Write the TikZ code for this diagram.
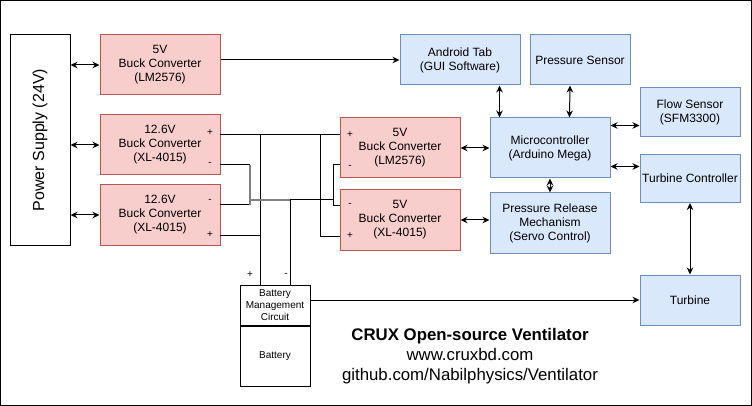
\documentclass[tikz,border=0pt]{standalone}
\usepackage{fontspec}
\setmainfont{Liberation Sans}
\usetikzlibrary{arrows.meta, calc, positioning}
\definecolor{redfill}{RGB}{248,206,204}
\definecolor{redline}{RGB}{184,84,80}
\definecolor{bluefill}{RGB}{218,232,252}
\definecolor{blueline}{RGB}{108,142,191}

\begin{document}
\begin{tikzpicture}[x=1pt, y=-1pt, line width=1pt, >={Stealth[length=7pt,width=6.5pt]},
    redbox/.style={draw=redline, fill=redfill, minimum width=120pt, minimum height=60pt, align=center, inner sep=0pt, font=\fontsize{12}{14}\selectfont},
    bluebox/.style={draw=blueline, fill=bluefill, align=center, inner sep=0pt, font=\fontsize{12}{14}\selectfont},
    pinlabel/.style={inner sep=0pt, font=\fontsize{10}{12}\selectfont},
    wiregray/.style={draw=gray, line width=1.5pt}]
    \useasboundingbox (0,0) rectangle (752,406);
    % Frame
    \draw (0.5,0.5) rectangle (751.5,405.5);

    % Power supply
    \node[draw, minimum width=60pt, minimum height=210pt, inner sep=0pt] (ps) at (40,140) {};
    \node[rotate=90, font=\fontsize{16}{19}\selectfont] (pslabel) at (ps.center) {Power Supply (24V)};

    % Buck converters
    \node[redbox] (bk5) at (160,65) {5V\\Buck Converter\\(LM2576)};
    \node[redbox] (bk12a) at (160,145) {12.6V\\Buck Converter\\(XL-4015)};
    \node[redbox] (bk12b) at (160,215) {12.6V\\Buck Converter\\(XL-4015)};
    \node[redbox] (bkLM) at (400,148) {5V\\Buck Converter\\(LM2576)};
    \node[redbox] (bkXL) at (400,220) {5V\\Buck Converter\\(XL-4015)};

    % Devices
    \node[bluebox, minimum width=120pt, minimum height=50pt] (tab) at (460,60) {Android Tab\\(GUI Software)};
    \node[bluebox, minimum width=100pt, minimum height=50pt] (psens) at (580,60) {Pressure Sensor};
    \node[bluebox, minimum width=100pt, minimum height=49pt] (flow) at (690,112.5) {Flow Sensor\\(SFM3300)};
    \node[bluebox, minimum width=120pt, minimum height=60pt] (mcu) at (550,148) {Microcontroller\\(Arduino Mega)};
    \node[bluebox, minimum width=100pt, minimum height=48pt] (tctl) at (690,178.5) {Turbine Controller};
    \node[bluebox, minimum width=120pt, minimum height=60pt] (prel) at (550,223) {Pressure Release\\Mechanism\\(Servo Control)};
    \node[bluebox, minimum width=100pt, minimum height=50pt] (turb) at (690,300) {Turbine};

    % Battery
    \node[draw, fill=white, minimum width=70pt, minimum height=40pt, align=center, inner sep=0pt, font=\fontsize{10}{12}\selectfont] (bms) at (275,305) {Battery\\Management\\Circuit};
    \node[draw, fill=white, minimum width=70pt, minimum height=60pt, inner sep=0pt, font=\fontsize{10}{12}\selectfont, below=0pt of bms] (batt) {Battery};

    % Power links
    \draw[<->] (ps.east |- bk5.west) -- (bk5.west);
    \draw[<->] (ps.east |- bk12a.west) -- (bk12a.west);
    \draw[<->] (ps.east |- bk12b.west) -- (bk12b.west);
    \draw[->] (bk5.east |- tab.west) -- (tab.west);

    % Data links
    \draw[<->] ($(tab.south west)+(100,0)$) -- ($(mcu.north west)+(10,0)$);
    \draw[<->] ($(psens.south)+(-10,0)$) -- ($(mcu.north west)+(80,0)$);
    \draw[<->] ($(mcu.north east)+(0,8)$) -- ($(flow.west |- mcu.north east)+(0,8)$);
    \draw[<->] ($(mcu.south east)+(0,-12)$) -- ($(tctl.west |- mcu.south east)+(0,-12)$);
    \draw[<->] (mcu.south) -- (prel.north);
    \draw[<->] (bkLM.east) -- (mcu.west |- bkLM.east);
    \draw[<->] (bkXL.east) -- (prel.west |- bkXL.east);
    \draw[<->] (tctl.south) -- (turb.north);
    \draw[->] (bms.east |- turb.west) -- (turb.west);

    % Pins
    \coordinate (aplus) at (220,135);
    \coordinate (aminus) at (220,165);
    \coordinate (bminus) at (220,205);
    \coordinate (bplus) at (220,235);
    \coordinate (cplus) at (340,135);
    \coordinate (cminus) at (340,165);
    \coordinate (dminus) at (340,206);
    \coordinate (dplus) at (340,236);
    \coordinate (batplus) at (260,285);
    \coordinate (batminus) at (290,285);
    \coordinate (mnode) at (290,200);

    % Wiring
    \draw (aplus) -- (cplus);
    \draw (batplus) -- (batplus |- aplus);
    \draw (bplus) -- (bplus -| batplus);
    \draw ($(cplus)+(-20,0)$) |- (dplus);
    \draw (aminus) -- ++(30,0) coordinate (mj);
    \draw (bminus) -- ++(30,0);
    \draw[wiregray] (mj) -- ++(0,40);
    \draw[wiregray] (mj |- mnode) -- (mnode);
    \draw (batminus) -- (mnode) -- ($(mnode -| cminus)+(-7,0)$);
    \draw (cminus) -- ++(-7,0) |- (dminus);

    % Pin labels
    \node[pinlabel] (lap) at (210,133) {+};
    \node[pinlabel] (lam) at (210,164) {-};
    \node[pinlabel] (lbm) at (210,201) {-};
    \node[pinlabel] (lbp) at (210,235) {+};
    \node[pinlabel] (lcp) at (350,135) {+};
    \node[pinlabel] (lcm) at (350,167) {-};
    \node[pinlabel] (ldm) at (350,205) {-};
    \node[pinlabel] (ldp) at (350,236) {+};
    \node[pinlabel] (lbatp) at (250,275) {+};
    \node[pinlabel] (lbatm) at (286,275) {-};

    % Title
    \node[align=center, font=\fontsize{16.8}{20}\selectfont] (title) at (470,356) {\textbf{CRUX Open-source Ventilator}\\www.cruxbd.com\\github.com/Nabilphysics/Ventilator};
\end{tikzpicture}
\end{document}
